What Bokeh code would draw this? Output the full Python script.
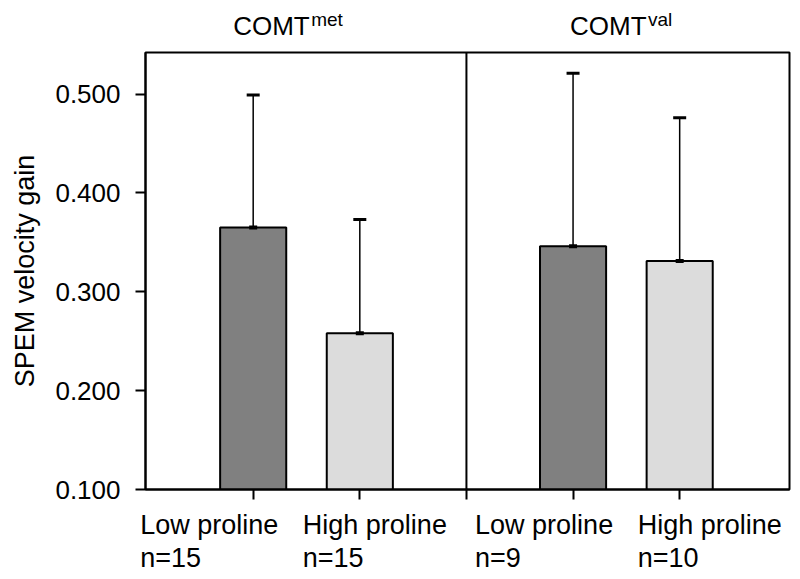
from bokeh.plotting import figure
from bokeh.layouts import column
from bokeh.models import (ColumnDataSource, Range1d, FixedTicker, NumeralTickFormatter,
                          Whisker, TeeHead, Span)
from bokeh.core.properties import value
from bokeh.embed import file_html
from bokeh.resources import INLINE

# ---- data ----
groups = ["COMT", "COMT"]
group_sup = ["met", "val"]
categories = ["Low proline", "High proline", "Low proline", "High proline"]
n_labels = ["n=15", "n=15", "n=9", "n=10"]
positions = [1, 2, 4, 5]
divider = 3
means = [0.365, 0.258, 0.346, 0.331]
upper = [0.499, 0.373, 0.521, 0.476]
colors = ["#808080", "#dcdcdc", "#808080", "#dcdcdc"]
y_ticks = [0.1, 0.2, 0.3, 0.4, 0.5]
y_start, y_end = 0.1, 0.542

# ---- layout ----
FONT = "Liberation Sans"
W = 792
LEFT, RIGHT = 145, 3
X0, X1 = -0.01, 6.03
TOP_H = 50
MAIN_TOP, MAIN_FRAME_H, MAIN_BOTTOM = 2, 437, 16
BOT_H = 70
px_per_x = (W - LEFT - RIGHT) / (X1 - X0)


def blank(fig):
    fig.outline_line_color = None
    fig.xgrid.visible = False
    fig.ygrid.visible = False
    fig.axis.visible = False
    fig.background_fill_color = "white"
    fig.border_fill_color = "white"


# ---- main plot ----
p = figure(width=W, height=MAIN_TOP + MAIN_FRAME_H + MAIN_BOTTOM, output_backend="svg",
           toolbar_location=None, x_range=Range1d(X0, X1), y_range=Range1d(y_start, y_end),
           min_border_left=LEFT, min_border_right=RIGHT, min_border_top=MAIN_TOP,
           min_border_bottom=MAIN_BOTTOM, frame_align=False)
p.background_fill_color = "white"
p.border_fill_color = "white"
p.outline_line_color = "black"
p.outline_line_width = 2
p.xgrid.visible = False
p.ygrid.visible = False

src = ColumnDataSource(dict(x=positions, top=means, upper=upper, color=colors,
                            bottom=[y_start] * len(means)))
p.vbar(x="x", top="top", bottom="bottom", width=0.62, source=src,
       fill_color="color", line_color="black", line_width=2)

w = Whisker(base="x", lower="top", upper="upper", source=src,
            line_color="black", line_width=1.5, level="annotation",
            upper_head=TeeHead(size=13, line_width=3, line_color="black"),
            lower_head=TeeHead(size=8, line_width=4, line_color="black"))
p.add_layout(w)
p.add_layout(Span(location=divider, dimension="height", line_color="black", line_width=2))

p.yaxis.ticker = FixedTicker(ticks=y_ticks)
p.yaxis.formatter = NumeralTickFormatter(format="0.000")
p.yaxis.major_tick_out = 10
p.yaxis.major_tick_in = 0
p.yaxis.minor_tick_line_color = None
p.yaxis.axis_line_width = 2
p.yaxis.major_tick_line_width = 2
p.yaxis.major_label_text_font = FONT
p.yaxis.major_label_text_font_size = "26px"
p.yaxis.major_label_text_color = "black"
p.yaxis.major_label_standoff = 15
p.yaxis.axis_label = "SPEM velocity gain"
p.yaxis.axis_label_text_font = FONT
p.yaxis.axis_label_text_font_size = "27px"
p.yaxis.axis_label_text_font_style = "normal"
p.yaxis.axis_label_text_color = "black"
p.yaxis.axis_label_standoff = 12

xt = positions + [divider]
p.xaxis.ticker = FixedTicker(ticks=xt)
p.xaxis.major_tick_out = 10
p.xaxis.major_tick_in = 0
p.xaxis.minor_tick_line_color = None
p.xaxis.axis_line_width = 2
p.xaxis.major_tick_line_width = 2
p.xaxis.major_label_overrides = {t: "" for t in xt}
p.xaxis.major_label_text_font_size = "0px"
p.xaxis.major_label_standoff = 0

strip_range = (X0 - LEFT / px_per_x, X1 + RIGHT / px_per_x)

# ---- top strip: group titles ----
top = figure(width=W, height=TOP_H, output_backend="svg", toolbar_location=None,
             x_range=Range1d(*strip_range), y_range=Range1d(0, TOP_H),
             min_border=0, frame_align=False)
blank(top)
gx = [positions[0], positions[2]]
top.text(x=gx, y=[TOP_H - 25.5] * 2, text=groups, x_offset=[-20, -3],
         text_font=value(FONT), text_font_size=value("26px"), text_color="black",
         text_align="left", text_baseline="middle")
top.text(x=gx, y=[TOP_H - 18.5] * 2, text=group_sup, x_offset=[58, 75],
         text_font=value(FONT), text_font_size=value("19px"), text_color="black",
         text_align="left", text_baseline="middle")

# ---- bottom strip: category labels ----
bot = figure(width=W, height=BOT_H, output_backend="svg", toolbar_location=None,
             x_range=Range1d(*strip_range), y_range=Range1d(0, BOT_H),
             min_border=0, frame_align=False)
blank(bot)
label_dx = [-113, -57, -98, -42]
bot.text(x=positions, y=[BOT_H - 19] * 4, text=categories, x_offset=label_dx,
         text_font=value(FONT), text_font_size=value("27px"), text_color="black",
         text_align="left", text_baseline="middle")
bot.text(x=positions, y=[BOT_H - 52.5] * 4, text=n_labels, x_offset=label_dx,
         text_font=value(FONT), text_font_size=value("27px"), text_color="black",
         text_align="left", text_baseline="middle")

layout = column(top, p, bot, spacing=0)
open("out.html", "w").write(file_html(layout, INLINE))
